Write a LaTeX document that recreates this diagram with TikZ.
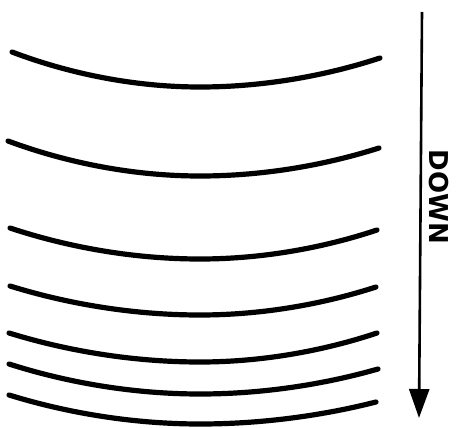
\documentclass[tikz,border=0pt]{standalone}
\usepackage{fontspec}
\newfontfamily\labelfont{DejaVu Sans}
\usepackage{tikz}
\usetikzlibrary{arrows.meta}
\definecolor{ink}{RGB}{0,0,0}

\begin{document}
\begin{tikzpicture}[x=1pt,y=-1pt,
  front/.style={draw=ink,line width=5.2pt,line cap=round},
  fall/.style={draw=ink,line width=2.6pt,-{Triangle[width=20pt,length=29pt]}}]
  \useasboundingbox (0,0) rectangle (456,428);
  % wave fronts, closer together going down
  \foreach \xl/\yl/\ym/\xr/\yr in {12/52/87/380/58, 8/141/176/379/148,
      10/228/259/377/230, 10/286/315/376/287, 9/333/362/377/333,
      9/364/394/378/369, 9/395/424/376/402} {
    \draw[front] (\xl,\yl) parabola bend (200,\ym) (\xr,\yr);
  }
  \coordinate (top) at (422,12);
  \coordinate (bottom) at (419,418);
  \draw[fall] (top) -- (bottom);
  \node[rotate=-90,inner sep=0pt,font=\labelfont\bfseries\fontsize{26}{26}\selectfont] (down) at (439,197) {DOWN};
\end{tikzpicture}
\end{document}
